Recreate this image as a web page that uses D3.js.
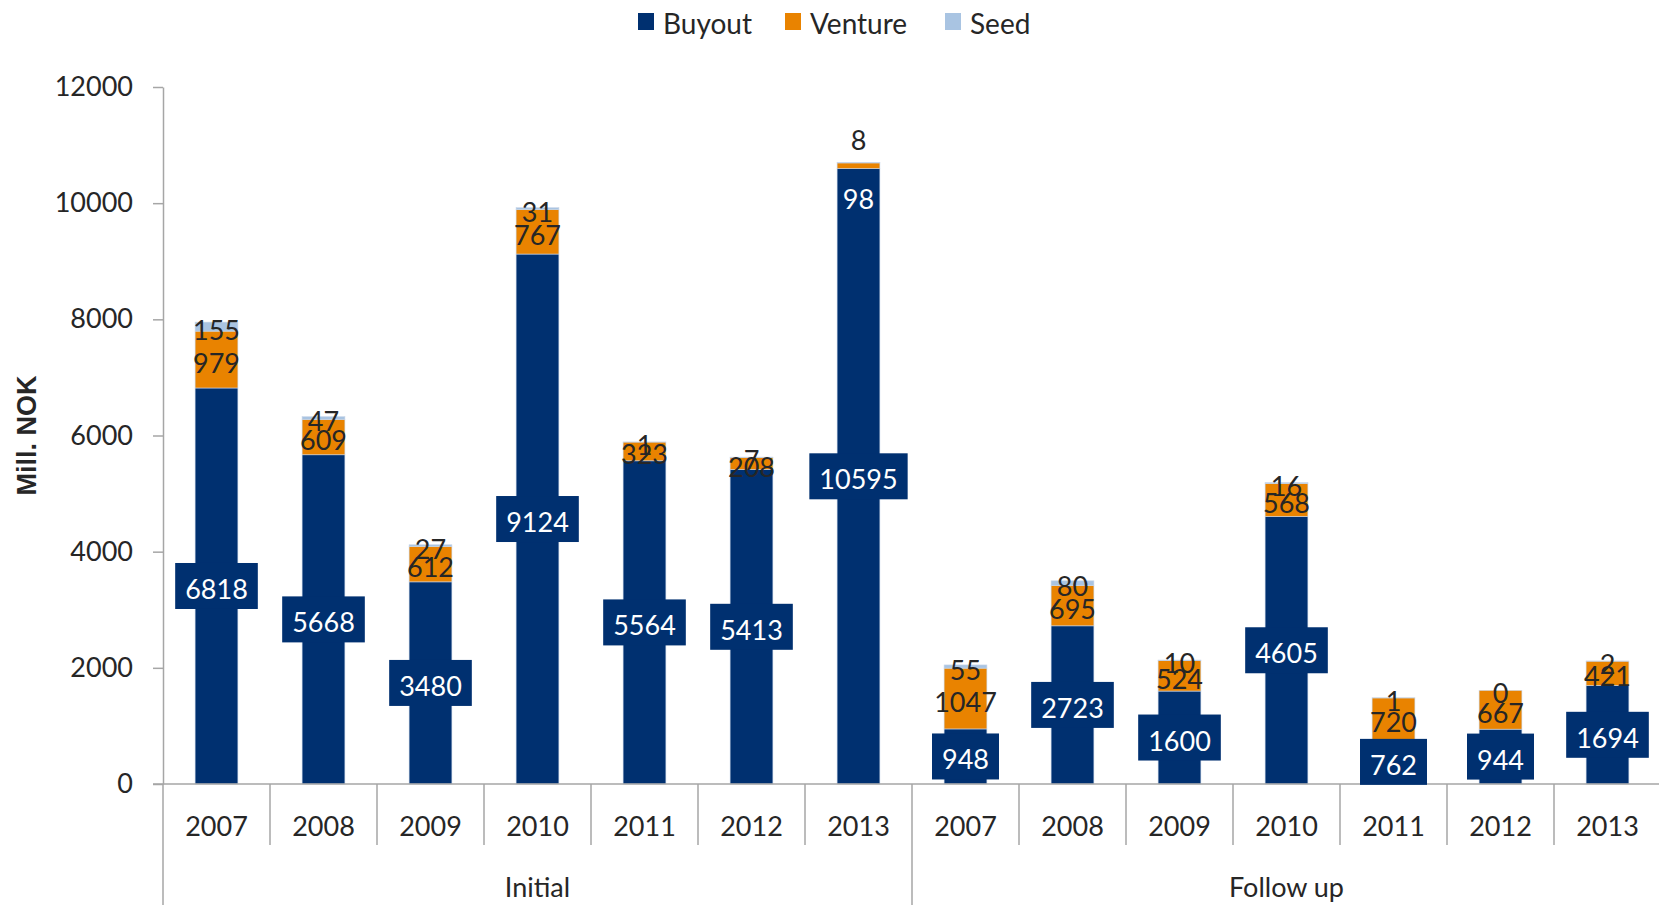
<!DOCTYPE html>
<html>
<head>
<meta charset="utf-8">
<script src="https://cdn.jsdelivr.net/npm/d3@7"></script>
<style>
  body { margin: 0; background: #fff; }
  text { font-family: Lato, "Open Sans", sans-serif; fill: #262626; }
</style>
</head>
<body>
<script>
// groups and years
var groups = ["Initial", "Follow up"];
var years = ["2007", "2008", "2009", "2010", "2011", "2012", "2013"];

// series values, Initial years then Follow up years
var buyout  = [6818, 5668, 3480, 9124, 5564, 5413, 10595, 948, 2723, 1600, 4605, 762, 944, 1694];
var venture = [979, 609, 612, 767, 323, 208, 98, 1047, 695, 524, 568, 720, 667, 421];
var seed    = [155, 47, 27, 31, 1, 7, 8, 55, 80, 10, 16, 1, 0, 2];

var yTicks = [0, 2000, 4000, 6000, 8000, 10000, 12000];

var seriesNames = ["Buyout", "Venture", "Seed"];
var colors = ["#003070", "#E98300", "#A9C4E2"];

var W = 1659, H = 905;
var x0 = 163, x1 = 1661, yTop = 87, yBot = 784;

var svg = d3.select("body").append("svg").attr("width", W).attr("height", H);

var rows = buyout.map(function(d, i) {
    return { i: i, Buyout: d, Venture: venture[i], Seed: seed[i] };
});

var x = d3.scaleBand()
    .domain(rows.map(function(d) { return d.i; }))
    .range([x0, x1])
    .paddingInner(0.6)
    .paddingOuter(0.3);

var y = d3.scaleLinear().domain([0, 12000]).range([yBot, yTop]);

var stack = d3.stack().keys(seriesNames)(rows);

// bars
svg.selectAll("g.series")
    .data(stack)
    .enter()
    .append("g")
    .attr("fill", function(d, k) { return colors[k]; })
    .selectAll("rect")
    .data(function(d) { return d; })
    .enter()
    .append("rect")
    .attr("x", function(d) { return x(d.data.i); })
    .attr("y", function(d) { return y(d[1]); })
    .attr("width", x.bandwidth())
    .attr("height", function(d) { return y(d[0]) - y(d[1]); })
    .attr("stroke", "#c9d6e8")
    .attr("stroke-width", 0.6);

// y axis
var yAxis = d3.axisLeft(y).tickValues(yTicks).tickFormat(d3.format("d"))
    .tickSize(10).tickPadding(20).tickSizeOuter(0);
var ga = svg.append("g").attr("transform", "translate(" + x0 + ",0)").call(yAxis);
ga.selectAll("text").style("font-size", "27px").attr("fill", "#262626");
ga.selectAll("line, path").attr("stroke", "#a6a6a6").attr("stroke-width", 1.5);

// x axis line
svg.append("line")
    .attr("x1", x0 - 10).attr("x2", W)
    .attr("y1", y(0)).attr("y2", y(0))
    .attr("stroke", "#a6a6a6").attr("stroke-width", 1.5);

// category dividers
var step = x.step();
d3.range(rows.length + 1).forEach(function(k) {
    var xx = x0 + k * step;
    var long = (k % years.length === 0);
    svg.append("line")
        .attr("x1", xx).attr("x2", xx)
        .attr("y1", y(0)).attr("y2", long ? H : 845)
        .attr("stroke", "#a6a6a6").attr("stroke-width", 1.5);
});

// year labels
svg.selectAll("text.year")
    .data(rows)
    .enter()
    .append("text")
    .attr("class", "year")
    .attr("x", function(d) { return x(d.i) + x.bandwidth() / 2; })
    .attr("y", 836)
    .attr("text-anchor", "middle")
    .style("font-size", "27px")
    .text(function(d) { return years[d.i % years.length]; });

// group labels
svg.selectAll("text.group")
    .data(groups)
    .enter()
    .append("text")
    .attr("class", "group")
    .attr("x", function(d, g) { return x0 + (g + 0.5) * years.length * step; })
    .attr("y", 897)
    .attr("text-anchor", "middle")
    .style("font-size", "27px")
    .text(function(d) { return d; });

// y title
svg.append("text")
    .attr("transform", "translate(36," + ((yTop + yBot) / 2) + ") rotate(-90)")
    .attr("text-anchor", "middle")
    .style("font-family", "'Liberation Sans', Arial, sans-serif")
    .style("font-weight", "bold")
    .style("font-size", "27px")
    .text("Mill. NOK");

// labels that were moved by hand in the original
var nudge = { "1-6": 30, "2-6": -26 };

stack.forEach(function(layer, k) {
    layer.forEach(function(d) {
        var cx = x(d.data.i) + x.bandwidth() / 2;
        var cy = (y(d[0]) + y(d[1])) / 2 + (nudge[k + "-" + d.data.i] || 0);
        var inNavy = k > 0 && cy > y(d.data.Buyout);
        var t = svg.append("text")
            .attr("x", cx)
            .attr("y", cy + 13)
            .attr("text-anchor", "middle")
            .style("font-size", "27px")
            .style("fill", (k === 0 || inNavy) ? "#fff" : "#262626")
            .text(d.data[seriesNames[k]]);
        if (k === 0) {
            var bb = t.node().getBBox();
            svg.insert("rect", function() { return t.node(); })
                .attr("x", cx - bb.width / 2 - 10)
                .attr("y", cy - 23)
                .attr("width", bb.width + 20)
                .attr("height", 46)
                .attr("fill", colors[0]);
        }
    });
});

// legend
var legendX = [638, 785, 945];
var lg = svg.selectAll("g.legend")
    .data(seriesNames)
    .enter()
    .append("g")
    .attr("transform", function(d, k) { return "translate(" + legendX[k] + ",13)"; });
lg.append("rect").attr("width", 16).attr("height", 17).attr("fill", function(d, k) { return colors[k]; });
lg.append("text").attr("x", 25).attr("y", 21).style("font-size", "28px").text(function(d) { return d; });
</script>
</body>
</html>
